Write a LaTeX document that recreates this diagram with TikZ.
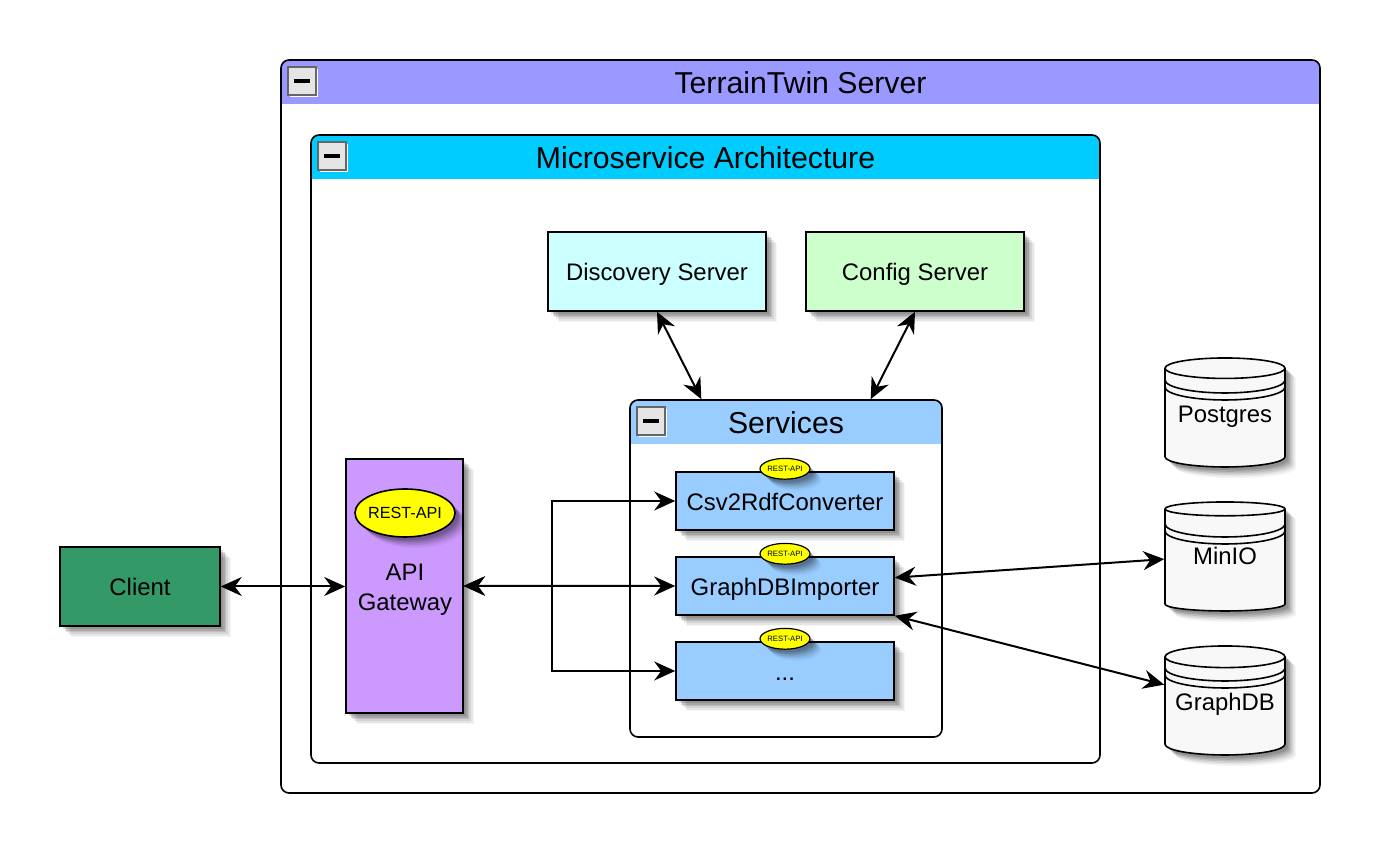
\documentclass[tikz,border=0pt]{standalone}
\usepackage{fontspec}
\setmainfont{Liberation Sans}
\usetikzlibrary{shapes.geometric, arrows.meta, positioning, calc, shadows}
\definecolor{serverblue}{RGB}{153, 153, 255}
\definecolor{microcyan}{RGB}{0, 204, 255}
\definecolor{servicesblue}{RGB}{153, 204, 255}
\definecolor{discoverycyan}{RGB}{204, 255, 255}
\definecolor{configgreen}{RGB}{204, 255, 204}
\definecolor{gatewaypurple}{RGB}{204, 153, 255}
\definecolor{clientgreen}{RGB}{51, 153, 102}
\definecolor{dbgray}{RGB}{248, 248, 248}
\definecolor{restyellow}{RGB}{255, 255, 0}

\begin{document}
\begin{tikzpicture}[
    softshadow/.style={
        drop shadow={shadow xshift=.28cm, shadow yshift=-.28cm, opacity=.04, fill=black},
        drop shadow={shadow xshift=.24cm, shadow yshift=-.24cm, opacity=.06, fill=black},
        drop shadow={shadow xshift=.2cm, shadow yshift=-.2cm, opacity=.08, fill=black},
        drop shadow={shadow xshift=.16cm, shadow yshift=-.16cm, opacity=.1, fill=black},
        drop shadow={shadow xshift=.12cm, shadow yshift=-.12cm, opacity=.12, fill=black},
        drop shadow={shadow xshift=.08cm, shadow yshift=-.08cm, opacity=.12, fill=black}},
    lane/.style={draw, line width=.4mm, rounded corners=.2cm, fill=white, path picture={
        \fill[#1, sharp corners] (path picture bounding box.north west) rectangle
            ([yshift=-1.1cm]path picture bounding box.north east);}},
    lanetitle/.style={minimum height=1.1cm, inner sep=0pt, text height=16.5pt, text depth=0pt,
        font=\fontsize{21.5}{26}\selectfont},
    minusbox/.style={draw=black!60, line width=.4mm, fill=black!10, minimum size=.7cm, inner sep=0pt,
        drop shadow={shadow xshift=.05cm, shadow yshift=-.05cm, opacity=1, fill=white},
        path picture={\fill[black] ([xshift=-.2cm, yshift=-.05cm]path picture bounding box.center)
            rectangle ([xshift=.2cm, yshift=.05cm]path picture bounding box.center);}},
    comp/.style={draw, line width=.4mm, softshadow, align=center, inner sep=0pt,
        text height=13pt, text depth=0pt, font=\fontsize{17}{21}\selectfont},
    service/.style={comp, fill=servicesblue, minimum width=5.45cm, minimum height=1.45cm},
    restsmall/.style={ellipse, draw, line width=.3mm, fill=restyellow, softshadow, inner sep=-1pt,
        minimum width=1.25cm, minimum height=.52cm, yshift=.06cm, font=\fontsize{5.5}{7}\selectfont},
    database/.style={cylinder, shape border rotate=90, shape aspect=.217, draw, line width=.4mm,
        fill=dbgray, softshadow, minimum width=3cm, minimum height=2.725cm, inner sep=0pt,
        text height=12pt, text depth=5.7pt, font=\fontsize{17}{21}\selectfont, path picture={
            \draw[line width=.4mm] ([yshift=.8125cm]path picture bounding box.west)
                arc[start angle=180, end angle=360, x radius=1.5cm, y radius=.325cm];
            \draw[line width=.4mm] ([yshift=.6375cm]path picture bounding box.west)
                arc[start angle=180, end angle=360, x radius=1.5cm, y radius=.325cm];
        }},
    link/.style={line width=.5mm, {Stealth[length=.525cm, width=.475cm, inset=.175cm]}-{Stealth[length=.525cm, width=.475cm, inset=.175cm]}}
]
    \useasboundingbox (0,0) rectangle (34.925,21.2);

    % Frames
    \node[lane=serverblue, minimum width=25.975cm, minimum height=18.325cm] (server) at (20.0125,10.5375) {};
    \node[lanetitle, below=0pt of server.north] (servertitle) {TerrainTwin Server};
    \node[minusbox, below right=.175cm and .175cm of server.north west] (serverminus) {};

    \node[lane=microcyan, minimum width=19.725cm, minimum height=15.7cm] (micro) at (17.6375,9.975) {};
    \node[lanetitle, below=0pt of micro.north] (microtitle) {Microservice Architecture};
    \node[minusbox, below right=.175cm and .175cm of micro.north west] (microminus) {};

    \node[lane=servicesblue, minimum width=7.8cm, minimum height=8.425cm] (services) at (19.65,6.9875) {};
    \node[lanetitle, below=0pt of services.north] (servicestitle) {Services};
    \node[minusbox, below right=.175cm and .175cm of services.north west] (servicesminus) {};

    % Servers
    \node[comp, fill=discoverycyan, minimum width=5.45cm, minimum height=1.975cm] (discovery) at (16.425,14.4125) {Discovery Server};
    \node[comp, fill=configgreen, minimum width=5.45cm, minimum height=1.975cm] (config) at (22.875,14.4125) {Config Server};

    % Services
    \node[service] (csv) at (19.625,8.675) {Csv2RdfConverter};
    \node[service, below=.635cm of csv] (importer) {GraphDBImporter};
    \node[service, below=.635cm of importer] (dots) {...};
    \node[restsmall] (csvrest) at (csv.north) {REST-API};
    \node[restsmall] (importerrest) at (importer.north) {REST-API};
    \node[restsmall] (dotsrest) at (dots.north) {REST-API};

    % Gateway and client
    \node[comp, fill=gatewaypurple, minimum width=2.925cm, minimum height=6.35cm] (gateway) at (10.1125,6.55) {};
    \node[ellipse, draw, line width=.4mm, fill=restyellow, softshadow, inner sep=-2pt, minimum width=2.5cm, minimum height=1.2cm,
        font=\fontsize{11.5}{14}\selectfont] (gatewayrest) at (10.125,8.375) {REST-API};
    \node[align=center, font=\fontsize{17}{21}\selectfont, inner sep=0pt] (gatewaytext) at (10.125,6.45) {API\\Gateway};
    \node[comp, fill=clientgreen, minimum width=4cm, minimum height=1.975cm] (client) at (3.5,6.5375) {Client};

    % Databases
    \node[database] (postgres) at (30.625,10.75) {Postgres};
    \node[database, below=.835cm of postgres] (minio) {MinIO};
    \node[database, below=.835cm of minio] (graphdb) {GraphDB};

    % Connectors
    \draw[link] (client.east) -- (gateway.west |- client.east);
    \draw[link] (gateway.east) -- ++(2.2,0) |- (csv.west);
    \draw[link] (gateway.east) -- (importer.west);
    \draw[link] (gateway.east) -- ++(2.2,0) |- (dots.west);
    \draw[link] (discovery.south) -- ($(services.north west)!.23!(services.north east)$);
    \draw[link] (config.south) -- ($(services.north west)!.77!(services.north east)$);
    \draw[link] ($(importer.north east)!.36!(importer.south east)$) -- ([yshift=.03cm]minio.west);
    \draw[link] (importer.south east) -- ([yshift=.54cm]graphdb.west);
\end{tikzpicture}
\end{document}
